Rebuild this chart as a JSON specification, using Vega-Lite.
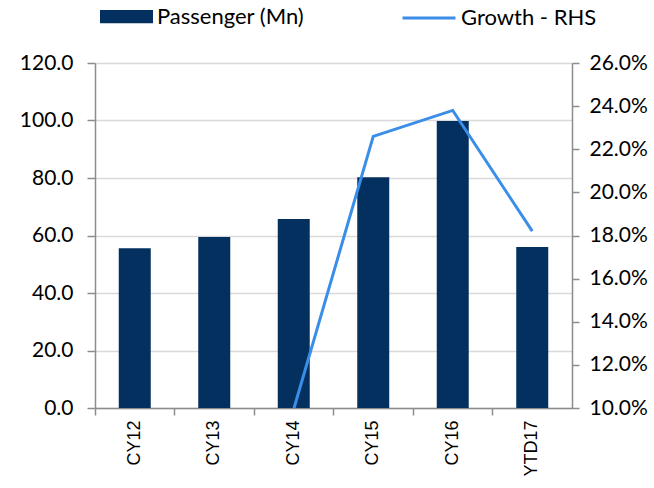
{
  "$schema": "https://vega.github.io/schema/vega-lite/v6.json",
  "width": 477,
  "height": 345,
  "autosize": {"type": "none"},
  "padding": {"left": 95, "top": 63, "right": 82, "bottom": 80},
  "background": "white",
  "config": {
    "view": {"stroke": null},
    "font": "Lato",
    "axis": {"domainColor": "#8c8c8c", "tickColor": "#8c8c8c", "domainWidth": 1.5, "tickWidth": 1.5, "labelColor": "#000000", "title": null}
  },
  "data": {
    "values": [
      {"period": "CY12", "passenger": 55.6, "growth": null},
      {"period": "CY13", "passenger": 59.5, "growth": null},
      {"period": "CY14", "passenger": 65.7, "growth": 0.0995},
      {"period": "CY15", "passenger": 80.3, "growth": 0.226},
      {"period": "CY16", "passenger": 99.8, "growth": 0.238},
      {"period": "YTD17", "passenger": 56.0, "growth": 0.182}
    ]
  },
  "encoding": {
    "x": {
      "field": "period",
      "type": "nominal",
      "sort": null,
      "scale": {"paddingInner": 0, "paddingOuter": 0},
      "axis": {
        "labelAngle": -90,
        "labelFont": "Liberation Sans",
        "labelFontSize": 18,
        "labelPadding": 5,
        "bandPosition": 0,
        "tickSize": 7,
        "labelBaseline": "middle",
        "labelAlign": "right"
      }
    }
  },
  "layer": [
    {
      "mark": {"type": "bar", "size": 32},
      "encoding": {
        "y": {
          "field": "passenger",
          "type": "quantitative",
          "scale": {"domain": [0, 120], "nice": false},
          "axis": {
            "values": [0, 20, 40, 60, 80, 100, 120],
            "format": ".1f",
            "grid": true,
            "gridColor": "#d9d9d9",
            "gridWidth": 1.5,
            "tickSize": 8,
            "labelFontSize": 21,
            "labelPadding": 14
          }
        },
        "fill": {
          "datum": "Passenger (Mn)",
          "scale": {"domain": ["Passenger (Mn)"], "range": ["#03305f"]},
          "legend": {
            "orient": "none",
            "legendX": 5,
            "legendY": -73,
            "title": null,
            "padding": 0,
            "symbolType": "M-1,-0.25H1V0.25H-1Z",
            "symbolSize": 2809,
            "symbolStrokeWidth": 0,
            "labelFontSize": 22,
            "labelFont": "Lato",
            "labelOffset": 4,
            "labelColor": "#000000"
          }
        }
      }
    },
    {
      "mark": {"type": "line", "strokeWidth": 3, "clip": true},
      "encoding": {
        "y": {
          "field": "growth",
          "type": "quantitative",
          "scale": {"domain": [0.10, 0.26], "nice": false, "zero": false},
          "axis": {
            "orient": "right",
            "values": [0.10, 0.12, 0.14, 0.16, 0.18, 0.20, 0.22, 0.24, 0.26],
            "format": ".1%",
            "grid": false,
            "tickSize": 7,
            "labelFontSize": 21,
            "labelPadding": 10
          }
        },
        "stroke": {
          "datum": "Growth - RHS",
          "scale": {"domain": ["Growth - RHS"], "range": ["#3a8ee8"]},
          "legend": {
            "orient": "none",
            "legendX": 306,
            "legendY": -73,
            "title": null,
            "padding": 0,
            "symbolType": "M-1,0H1",
            "symbolSize": 2809,
            "symbolStrokeWidth": 3,
            "labelFontSize": 22,
            "labelFont": "Lato",
            "labelOffset": 4,
            "labelColor": "#000000"
          }
        }
      }
    }
  ],
  "resolve": {"scale": {"y": "independent"}}
}
